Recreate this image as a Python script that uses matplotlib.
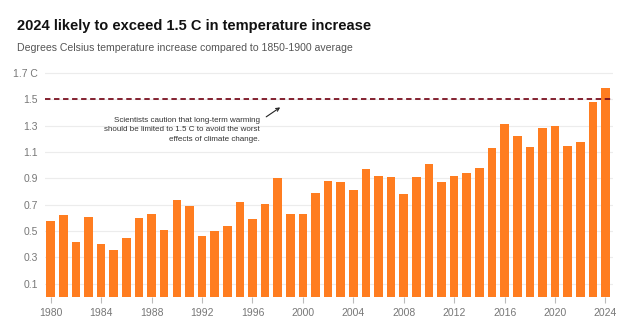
import matplotlib

matplotlib.use("Agg")
import matplotlib.pyplot as plt

# Global temperature increase vs 1850-1900 average (deg C)
YEARS = list(range(1980, 2025))
ANOMALY = [
    0.58, 0.62, 0.42, 0.61, 0.40, 0.36, 0.45, 0.60, 0.63, 0.51,
    0.74, 0.69, 0.46, 0.50, 0.54, 0.72, 0.59, 0.71, 0.90, 0.63,
    0.63, 0.79, 0.88, 0.87, 0.81, 0.97, 0.92, 0.91, 0.78, 0.91,
    1.01, 0.87, 0.92, 0.94, 0.98, 1.13, 1.31, 1.22, 1.14, 1.28,
    1.30, 1.15, 1.18, 1.48, 1.59,
]
Y_TICKS = [0.1, 0.3, 0.5, 0.7, 0.9, 1.1, 1.3, 1.5, 1.7]
Y_LABELS = ["0.1", "0.3", "0.5", "0.7", "0.9", "1.1", "1.3", "1.5", "1.7 C"]
X_TICKS = list(range(1980, 2025, 4))
LIMIT = 1.5

C_BAR, C_LINE, C_TICK = "#ff7d20", "#7a1020", "#777777"
FONT = ["Liberation Sans", "DejaVu Sans"]

fig = plt.figure(figsize=(6.36, 3.32), dpi=100)
ax = fig.add_axes([0.0708, 0.1054, 0.8931, 0.6823])

ax.bar(YEARS, ANOMALY, width=0.68, color=C_BAR, zorder=2)
ax.axhline(LIMIT, color=C_LINE, ls=(0, (3, 2)), lw=1.3, zorder=3)

ax.set_xlim(1979.55, 2024.6)
ax.set_ylim(0, 1.72)
ax.set_yticks(Y_TICKS)
ax.set_yticklabels(Y_LABELS)
ax.set_xticks(X_TICKS)
ax.set_xticklabels([str(y) for y in X_TICKS])
ax.grid(axis="y", color="#ececec", lw=0.8, zorder=0)
for s in ax.spines.values():
    s.set_visible(False)
ax.tick_params(axis="y", length=0, pad=5, colors=C_TICK, labelsize=7.5)
ax.tick_params(axis="x", length=4, width=0.8, color="#bbbbbb", pad=4,
               labelcolor=C_TICK, labelsize=7.5)
for lab in ax.get_xticklabels() + ax.get_yticklabels():
    lab.set_family(FONT)

ax.annotate(
    "Scientists caution that long-term warming\n"
    "should be limited to 1.5 C to avoid the worst\n"
    "effects of climate change.",
    xy=(1998.2, 1.44), xytext=(1996.6, 1.365),
    ha="right", va="top", fontsize=5.8, family=FONT, color="#333333",
    linespacing=1.45,
    arrowprops=dict(arrowstyle="->", color="#222222", lw=0.8,
                    relpos=(1.0, 0.85), shrinkA=3, shrinkB=0),
)

fig.text(0.027, 0.923, "2024 likely to exceed 1.5 C in temperature increase",
         fontsize=10.5, fontweight="bold", family=FONT, color="#111111",
         va="center")
fig.text(0.027, 0.855, "Degrees Celsius temperature increase compared to 1850-1900 average",
         fontsize=7.6, family=FONT, color="#555555", va="center")

fig.savefig("out.png", dpi=100)
